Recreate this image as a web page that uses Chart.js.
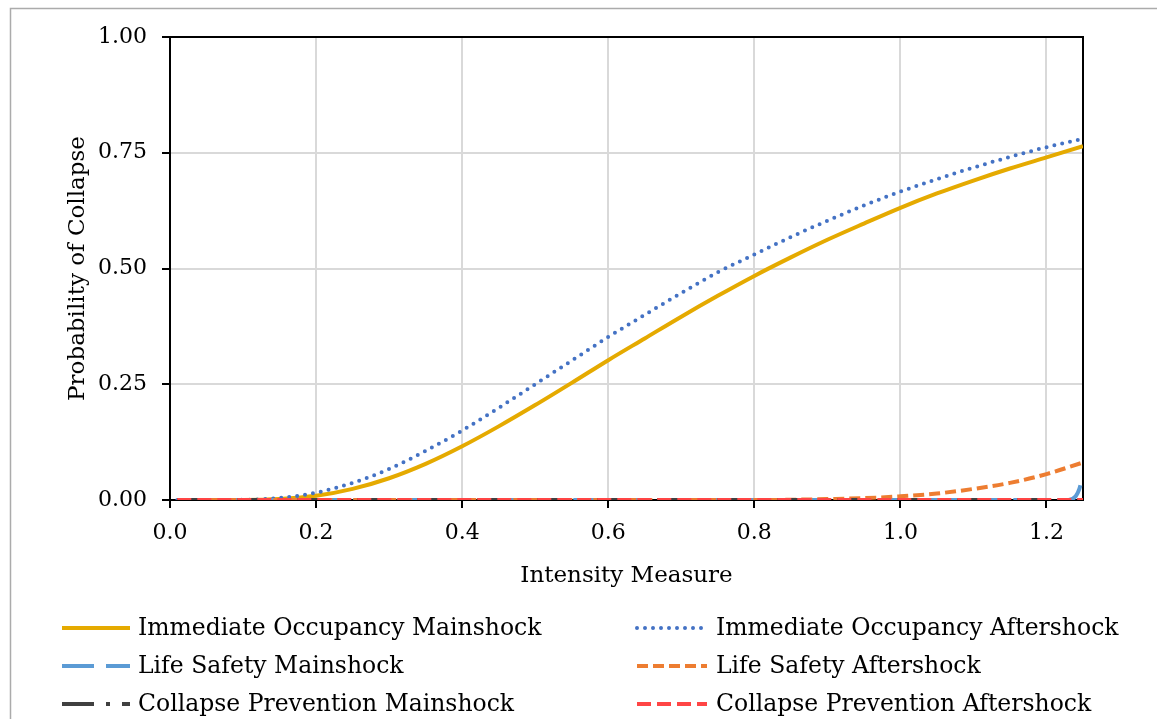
<!DOCTYPE html>
<html>
<head>
<meta charset="utf-8">
<script src="https://cdn.jsdelivr.net/npm/chart.js@4.4.1/dist/chart.umd.min.js"></script>
<style>
  html, body { margin: 0; padding: 0; background: #ffffff; }
  canvas { display: block; }
</style>
</head>
<body>
<canvas id="c" width="1157" height="719"></canvas>
<script>
// Fragility curves: probability of collapse vs. intensity measure
const intensity = [0.01, 0.05, 0.10, 0.15, 0.20, 0.25, 0.30, 0.35, 0.40, 0.45, 0.50, 0.55, 0.60,
                   0.65, 0.70, 0.75, 0.80, 0.85, 0.90, 0.95, 1.00, 1.05, 1.10, 1.15, 1.20, 1.25];

const ioMainshock  = [0, 0, 0.0002, 0.0023, 0.009, 0.024, 0.047, 0.078, 0.116, 0.159, 0.205, 0.253, 0.302,
                      0.349, 0.396, 0.441, 0.484, 0.524, 0.562, 0.597, 0.631, 0.662, 0.690, 0.716, 0.740, 0.764];
const ioAftershock = [0, 0, 0.0005, 0.0044, 0.0157, 0.037, 0.067, 0.106, 0.150, 0.199, 0.250, 0.301, 0.352,
                      0.400, 0.447, 0.492, 0.530, 0.568, 0.603, 0.636, 0.666, 0.693, 0.718, 0.741, 0.762, 0.780];
const lsAftershock = [0, 0, 0, 0, 0, 0, 0, 0, 0, 0, 0, 0, 0,
                      0, 0, 0, 0, 0.0005, 0.002, 0.004, 0.008, 0.014, 0.024, 0.037, 0.056, 0.081];
const cpMainshock  = [0, 0, 0, 0, 0, 0, 0, 0, 0, 0, 0, 0, 0,
                      0, 0, 0, 0, 0, 0, 0, 0, 0, 0, 0, 0, 0];
const cpAftershock = [0, 0, 0, 0, 0, 0, 0, 0, 0, 0, 0, 0, 0,
                      0, 0, 0, 0, 0, 0, 0, 0, 0, 0, 0, 0, 0];

// Life Safety mainshock only leaves zero at the very end of the range
const lsMainIntensity = [0.01, 1.23, 1.24, 1.245, 1.25];
const lsMainshock     = [0, 0, 0.008, 0.024, 0.056];

const xTickStep = 0.2;
const yTickStep = 0.25;

const seriesNames = [
  'Immediate Occupancy Mainshock', 'Immediate Occupancy Aftershock',
  'Life Safety Mainshock', 'Life Safety Aftershock',
  'Collapse Prevention Mainshock', 'Collapse Prevention Aftershock'
];

const pts = (xs, ys) => xs.map((x, i) => ({ x: x, y: ys[i] }));

const SERIF = '"DejaVu Serif", "Liberation Serif", serif';

const datasets = [
  { label: seriesNames[0], data: pts(intensity, ioMainshock),  borderColor: '#E5AA00', borderWidth: 4, borderDash: [] },
  { label: seriesNames[1], data: pts(intensity, ioAftershock), borderColor: '#4472C4', borderWidth: 4, borderDash: [0, 8], borderCapStyle: 'round' },
  { label: seriesNames[2], data: pts(lsMainIntensity, lsMainshock), borderColor: '#5B9BD5', borderWidth: 4, borderDash: [32, 12] },
  { label: seriesNames[3], data: pts(intensity, lsAftershock), borderColor: '#ED7D31', borderWidth: 4, borderDash: [11, 5] },
  { label: seriesNames[4], data: pts(intensity, cpMainshock),  borderColor: '#404040', borderWidth: 4, borderDash: [32, 12, 4, 12] },
  { label: seriesNames[5], data: pts(intensity, cpAftershock), borderColor: '#FF4545', borderWidth: 4, borderDash: [14, 6] }
].map((d, i, arr) => Object.assign({
  fill: false, pointRadius: 0, cubicInterpolationMode: 'monotone',
  borderCapStyle: 'butt', order: arr.length - i
}, d));

// Outer frame and black plot-area box
const framePlugin = {
  id: 'frame',
  beforeDatasetsDraw(chart) {
    const { ctx, chartArea: a } = chart;
    ctx.save();
    ctx.strokeStyle = '#000';
    ctx.lineWidth = 2;
    ctx.strokeRect(a.left, a.top, a.right - a.left, a.bottom - a.top);
    ctx.restore();
  },
  afterDraw(chart) {
    const { ctx, width, height } = chart;
    ctx.save();
    ctx.strokeStyle = '#ABABAB';
    ctx.lineWidth = 1.5;
    ctx.beginPath();
    ctx.moveTo(10.5, height);
    ctx.lineTo(10.5, 8.5);
    ctx.lineTo(width, 8.5);
    ctx.stroke();
    ctx.restore();
  }
};

// Two-column legend below the axis title
const legendPlugin = {
  id: 'twoColLegend',
  afterDraw(chart) {
    const { ctx } = chart;
    const colSample = [62, 637];
    const colText = [138, 716];
    const sampleLen = [68, 70];
    const rowY = [628, 666, 704];
    ctx.save();
    chart.data.datasets.forEach((ds, i) => {
      const col = i % 2, row = Math.floor(i / 2);
      const y = rowY[row];
      ctx.strokeStyle = ds.borderColor;
      ctx.lineWidth = ds.borderWidth;
      ctx.lineCap = ds.borderCapStyle || 'butt';
      ctx.setLineDash(ds.borderDash || []);
      ctx.beginPath();
      ctx.moveTo(colSample[col], y);
      ctx.lineTo(colSample[col] + sampleLen[col], y);
      ctx.stroke();
      ctx.setLineDash([]);
      ctx.fillStyle = '#000';
      ctx.font = '23.5px ' + SERIF;
      ctx.textBaseline = 'middle';
      ctx.textAlign = 'left';
      ctx.fillText(ds.label, colText[col], y + 1);
    });
    ctx.restore();
  }
};

new Chart(document.getElementById('c'), {
  type: 'line',
  data: { datasets: datasets },
  options: {
    responsive: false,
    animation: false,
    layout: { padding: { left: 64, top: 37, right: 74, bottom: 129 } },
    plugins: { legend: { display: false }, tooltip: { enabled: false } },
    scales: {
      x: {
        type: 'linear', min: 0, max: 1.25,
        afterFit(s) { s.height = 90; },
        border: { display: false },
        grid: { color: '#D9D9D9', lineWidth: 2, tickColor: '#000', tickLength: 8, tickWidth: 2 },
        ticks: {
          stepSize: xTickStep, includeBounds: false, padding: 12, color: '#000',
          font: { family: SERIF, size: 22 },
          maxRotation: 0,
          callback: v => Number(v).toFixed(1)
        },
        title: { display: true, text: 'Intensity Measure', color: '#000', padding: 0, font: { family: SERIF, size: 23 } }
      },
      y: {
        min: 0, max: 1,
        afterFit(s) { s.width = 106; },
        border: { display: false },
        grid: { color: '#D9D9D9', lineWidth: 2, tickColor: '#000', tickLength: 8, tickWidth: 2 },
        ticks: {
          stepSize: yTickStep, padding: 15, color: '#000',
          font: { family: SERIF, size: 22 },
          callback: v => Number(v).toFixed(2)
        },
        title: { display: true, text: 'Probability of Collapse', color: '#000', padding: 0, font: { family: SERIF, size: 23 } }
      }
    }
  },
  plugins: [framePlugin, legendPlugin]
});
</script>
</body>
</html>
